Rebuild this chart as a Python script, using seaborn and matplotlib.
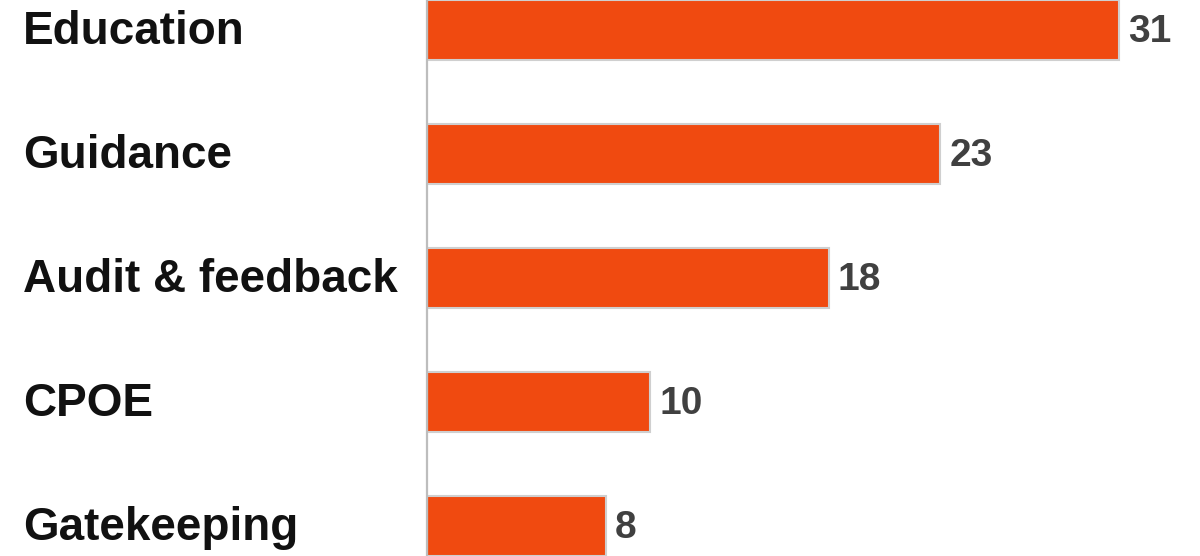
import matplotlib
matplotlib.use("Agg")
import matplotlib.pyplot as plt
import matplotlib.transforms as mtrans
import seaborn as sns
import pandas as pd

categories = ["Education", "Guidance", "Audit & feedback", "CPOE", "Gatekeeping"]
values = [31, 23, 18, 10, 8]

sns.set_theme(style="white")
plt.rcParams["font.family"] = ["Liberation Sans", "DejaVu Sans"]

df = pd.DataFrame({"category": categories, "value": values})

fig = plt.figure(figsize=(12, 5.56), dpi=100)
ax = fig.add_axes([427 / 1200, 0, 1 - 427 / 1200, 1])

sns.barplot(data=df, y="category", x="value", orient="h", ax=ax,
            color="#F04A10", saturation=1, width=0.49,
            edgecolor="#cfcfcf", linewidth=1.5)

ax.set_xlim(0, 34.63)
ax.set_ylim(4.242, -0.242)
ax.set_xlabel("")
ax.set_ylabel("")
ax.set_xticks([])
ax.set_yticks([])
for s in ["top", "right", "bottom"]:
    ax.spines[s].set_visible(False)
ax.spines["left"].set_color("#bdbdbd")
ax.spines["left"].set_linewidth(1.6)

val_trans = mtrans.offset_copy(ax.transData, fig=fig, x=9, y=0, units="dots")
for i, v in enumerate(values):
    ax.text(v, i + 0.10, f"{v}", transform=val_trans, ha="left", va="baseline",
            fontsize=28, fontweight="bold", color="#404040")

trans = mtrans.blended_transform_factory(fig.transFigure, ax.transData)
for i, cat in enumerate(categories):
    ax.text(23 / 1200, i + 0.115, cat, transform=trans, ha="left", va="baseline",
            fontsize=33, fontweight="bold", color="#111111")

fig.savefig("out.png", dpi=100)
